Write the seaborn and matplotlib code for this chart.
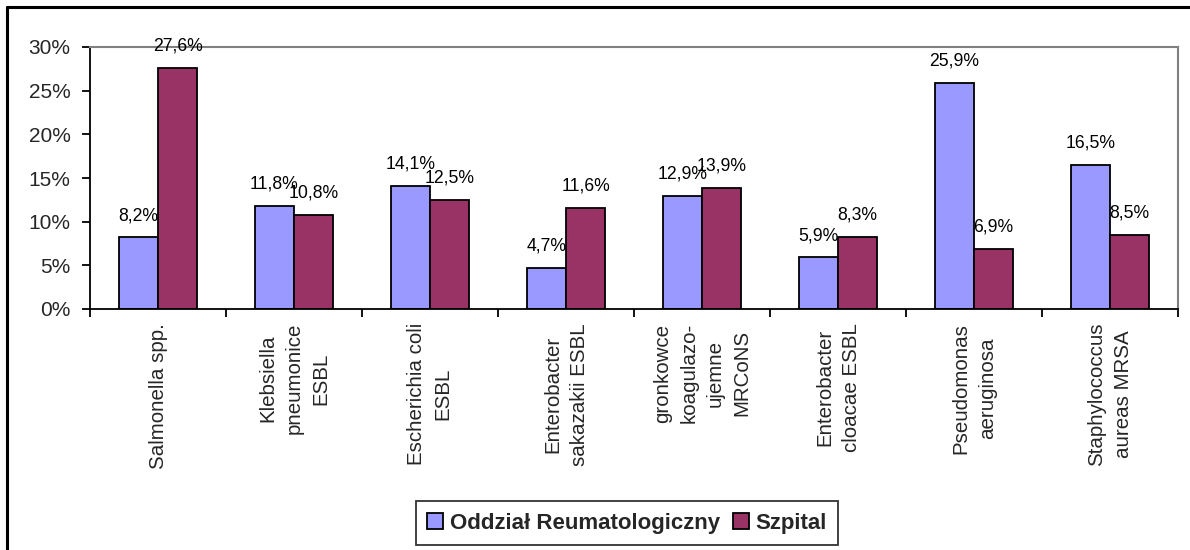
import numpy as np
import pandas as pd
import matplotlib
matplotlib.use("Agg")
import matplotlib.pyplot as plt
from matplotlib.lines import Line2D
from matplotlib.ticker import PercentFormatter
import seaborn as sns

# Odsetek izolatów wg patogenu
kategorie = [
    "Salmonella spp.",
    "Klebsiella\npneumonice\nESBL",
    "Escherichia coli\nESBL",
    "Enterobacter\nsakazakii ESBL",
    "gronkowce\nkoagulazo-\nujemne\nMRCoNS",
    "Enterobacter\ncloacae ESBL",
    "Pseudomonas\naeruginosa",
    "Staphylococcus\naureas MRSA",
]
oddzial = [8.2, 11.8, 14.1, 4.7, 12.9, 5.9, 25.9, 16.5]
szpital = [27.6, 10.8, 12.5, 11.6, 13.9, 8.3, 6.9, 8.5]
serie = ["Oddział Reumatologiczny", "Szpital"]
kolory = ["#9999FF", "#993366"]

df = pd.DataFrame({
    "patogen": kategorie * 2,
    "odsetek": oddzial + szpital,
    "seria": [serie[0]] * len(kategorie) + [serie[1]] * len(kategorie),
})

sns.set_theme(style="white")
plt.rcParams["font.family"] = ["Liberation Sans", "DejaVu Sans"]

W, H = 1190, 550
fig = plt.figure(figsize=(W / 100, H / 100), dpi=100)
fig.patch.set_facecolor("white")
ax = fig.add_axes([90 / W, 1 - 309 / H, (1178 - 90) / W, (309 - 47) / H])

sns.barplot(data=df, x="patogen", y="odsetek", hue="seria", palette=kolory,
            width=0.574, edgecolor="black", linewidth=1.3, saturation=1,
            ax=ax, legend=True)

# etykiety wartości nad słupkami
for cont, vals in zip(ax.containers, [oddzial, szpital]):
    for bar, v in zip(cont, vals):
        ax.annotate(f"{v:.1f}".replace(".", ",") + "%",
                    xy=(bar.get_x() + bar.get_width() / 2, bar.get_height()),
                    xytext=(0, 12.5), textcoords="offset points",
                    ha="center", va="baseline", fontsize=12.7, color="black")

ax.set_ylim(0, 30)
ax.set_yticks(np.arange(0, 31, 5))
ax.yaxis.set_major_formatter(PercentFormatter(decimals=0))
ax.set_xlim(-0.5, len(kategorie) - 0.5)
ax.set_xlabel("")
ax.set_ylabel("")

# znaczniki na granicach kategorii, opisy pośrodku
ax.set_xticks(np.arange(-0.5, len(kategorie), 1))
ax.set_xticklabels([])
ax.set_xticks(np.arange(len(kategorie)), minor=True)
ax.set_xticklabels(kategorie, minor=True, rotation=90, ha="center", va="top",
                   multialignment="center", fontsize=14.8, linespacing=1.5)
ax.tick_params(axis="x", which="major", length=6, width=1.3, color="black",
               direction="out", bottom=True)
ax.tick_params(axis="x", which="minor", length=0, pad=10, bottom=True)
ax.tick_params(axis="y", length=6, width=1.3, color="black", direction="out",
               left=True, labelsize=15, pad=8)

for s in ["left", "bottom"]:
    ax.spines[s].set_color("black")
    ax.spines[s].set_linewidth(1.3)
for s in ["top", "right"]:
    ax.spines[s].set_color("#808080")
    ax.spines[s].set_linewidth(1.5)

leg = ax.legend(loc="center", bbox_to_anchor=(0.527, 0.049),
                bbox_transform=fig.transFigure, ncol=2, frameon=True,
                fancybox=False, edgecolor="black", title=None,
                prop={"weight": "bold", "size": 16},
                handlelength=0.7, handleheight=0.7, handletextpad=0.3,
                columnspacing=0.6, borderpad=0.5, borderaxespad=0)
leg.get_frame().set_linewidth(1.3)

# ramka wykresu (górna i lewa krawędź)
fig.add_artist(Line2D([7 / W, 1], [1 - 7 / H, 1 - 7 / H], color="black",
                      linewidth=2.2, transform=fig.transFigure))
fig.add_artist(Line2D([7 / W, 7 / W], [0, 1 - 7 / H], color="black",
                      linewidth=2.2, transform=fig.transFigure))

fig.savefig("out.png", dpi=100, facecolor="white")
